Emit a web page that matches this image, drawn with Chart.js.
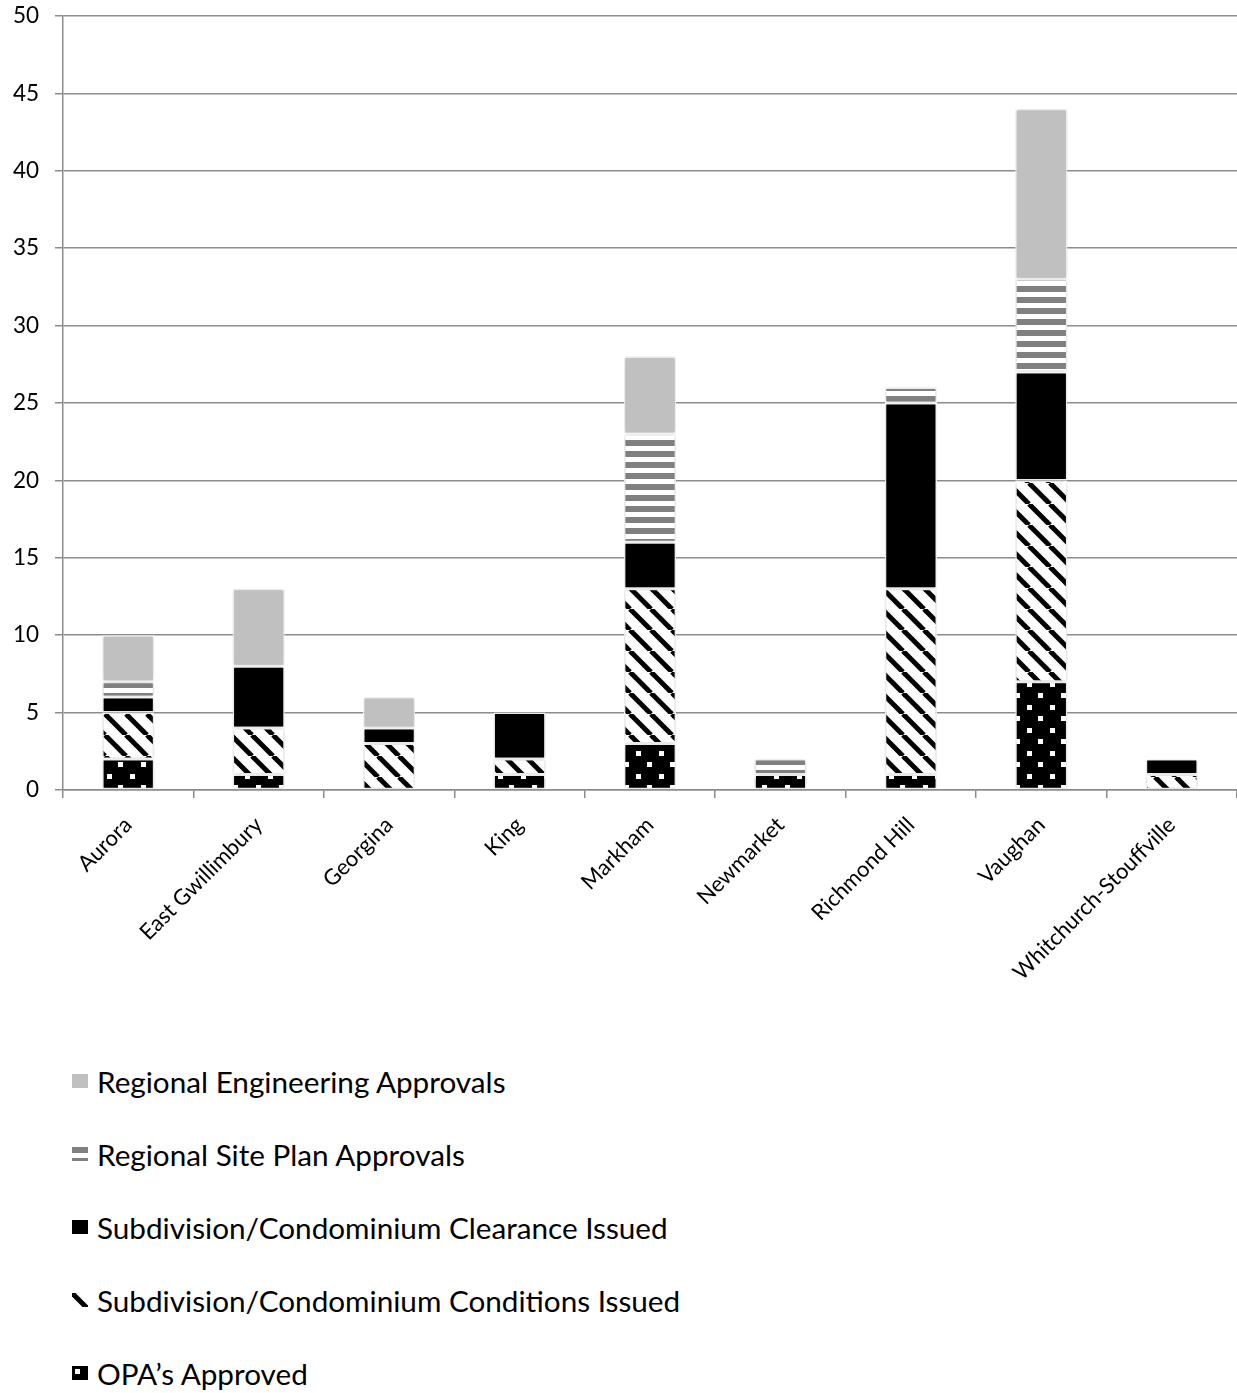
<!DOCTYPE html>
<html>
<head>
<meta charset="utf-8">
<script src="https://cdn.jsdelivr.net/npm/chart.js@4.4.1/dist/chart.umd.min.js"></script>
<style>
  html, body { margin: 0; padding: 0; background: #fff; }
  #wrap { position: relative; width: 1237px; height: 1010px; }
  #legend { position: absolute; left: 0; top: 0; width: 1237px; }
  .item { position: absolute; left: 72px; height: 40px; display: flex; align-items: center;
          font-family: Lato, "Open Sans", sans-serif; font-size: 29.7px; color: #000; white-space: nowrap; }
  .item canvas { width: 16px; height: 14px; margin-right: 9px; }
</style>
</head>
<body>
<div id="wrap"><canvas id="chart"></canvas></div>
<div id="legend"></div>
<script>
// Approvals by municipality
const municipalities = ['Aurora', 'East Gwillimbury', 'Georgina', 'King', 'Markham',
  'Newmarket', 'Richmond Hill', 'Vaughan', 'Whitchurch-Stouffville'];

const opaApproved          = [2, 1, 0, 1, 3, 1, 1, 7, 0];
const conditionsIssued     = [3, 3, 3, 1, 10, 0, 12, 13, 1];
const clearanceIssued      = [1, 4, 1, 3, 3, 0, 12, 7, 1];
const sitePlanApprovals    = [1, 0, 0, 0, 7, 1, 1, 6, 0];
const engineeringApprovals = [3, 5, 2, 0, 5, 0, 0, 11, 0];

const seriesNames = [
  "OPA\u2019s Approved",
  'Subdivision/Condominium Conditions Issued',
  'Subdivision/Condominium Clearance Issued',
  'Regional Site Plan Approvals',
  'Regional Engineering Approvals'
];

const yMin = 0, yMax = 50, yStep = 5;

// ---- fill patterns ----
function tile(w, h, paint) {
  const c = document.createElement('canvas');
  c.width = w; c.height = h;
  const g = c.getContext('2d');
  paint(g, w, h);
  return c;
}
const tiles = {
  dots: tile(23, 23, (g, w, h) => {
    g.fillStyle = '#000'; g.fillRect(0, 0, w, h);
    g.fillStyle = '#fff';
    g.fillRect(3, 3, 5, 5);
    g.fillRect(15, 15, 5, 5);
  }),
  diagonal: tile(21, 21, (g, w, h) => {
    g.fillStyle = '#fff'; g.fillRect(0, 0, w, h);
    g.strokeStyle = '#000'; g.lineWidth = 5;
    for (const o of [-w, 0, w]) {
      g.beginPath(); g.moveTo(o, 0); g.lineTo(o + w, h); g.stroke();
    }
  }),
  hstripes: tile(11, 11, (g, w, h) => {
    g.fillStyle = '#fff'; g.fillRect(0, 0, w, h);
    g.fillStyle = '#808080'; g.fillRect(0, 0, w, 6);
  })
};

const canvas = document.getElementById('chart');
const ctx = canvas.getContext('2d');

const seriesValues = [opaApproved, conditionsIssued, clearanceIssued, sitePlanApprovals, engineeringApprovals];
const seriesFills = ['dots', 'diagonal', '#000000', 'hstripes', '#c0c0c0'];
const fillFor = (g, f) => tiles[f] ? g.createPattern(tiles[f], 'repeat') : f;

const datasets = seriesValues.map((vals, i) => ({
  label: seriesNames[i],
  data: vals,
  backgroundColor: fillFor(ctx, seriesFills[i]),
  borderColor: '#ffffff',
  borderWidth: 1.5,
  borderSkipped: false
}));

// soft edge around the bars
const barShadow = {
  id: 'barShadow',
  beforeDatasetsDraw(chart) {
    const c = chart.ctx;
    c.save();
    c.shadowColor = 'rgba(0,0,0,0.22)';
    c.shadowBlur = 4;
  },
  afterDatasetsDraw(chart) { chart.ctx.restore(); }
};

const gridGrey = '#8c8c8c';
const fontFamily = 'Lato, "Open Sans", sans-serif';

new Chart(ctx, {
  type: 'bar',
  data: { labels: municipalities, datasets },
  options: {
    responsive: true,
    maintainAspectRatio: false,
    animation: false,
    layout: { padding: { top: 16, right: 0, bottom: 0, left: 0 } },
    categoryPercentage: 1,
    barPercentage: 0.4,
    plugins: { legend: { display: false }, tooltip: { enabled: false } },
    scales: {
      x: {
        stacked: true,
        grid: { drawOnChartArea: false, drawTicks: true, tickLength: 8, color: gridGrey, lineWidth: 1.5, offset: true },
        border: { color: gridGrey, width: 1.5 },
        ticks: { color: '#000', font: { family: fontFamily, size: 22 }, maxRotation: 45, minRotation: 45, autoSkip: false, padding: 14 },
        afterFit(scale) { scale.height = 220; }
      },
      y: {
        stacked: true,
        min: yMin, max: yMax,
        grid: { color: gridGrey, lineWidth: 1.5, tickLength: 8 },
        border: { color: gridGrey, width: 1.5 },
        ticks: { stepSize: yStep, color: '#000', font: { family: fontFamily, size: 22.5 }, padding: 16 },
        afterFit(scale) {
          scale.width = 63;
          scale.paddingTop = 0;
          scale.paddingBottom = 0;
        }
      }
    }
  },
  plugins: [barShadow]
});

// legend below the chart, top entry first
const legend = document.getElementById('legend');
const rowTops = [1061, 1134, 1207, 1280, 1353];
seriesNames.slice().reverse().forEach((name, r) => {
  const i = seriesNames.length - 1 - r;
  const item = document.createElement('div');
  item.className = 'item';
  item.style.top = rowTops[r] + 'px';
  const sw = document.createElement('canvas');
  sw.width = 16; sw.height = 14;
  const g = sw.getContext('2d');
  g.fillStyle = fillFor(g, seriesFills[i]);
  g.fillRect(0, 0, 16, 14);
  item.appendChild(sw);
  const span = document.createElement('span');
  span.textContent = name;
  item.appendChild(span);
  legend.appendChild(item);
});
</script>
</body>
</html>
